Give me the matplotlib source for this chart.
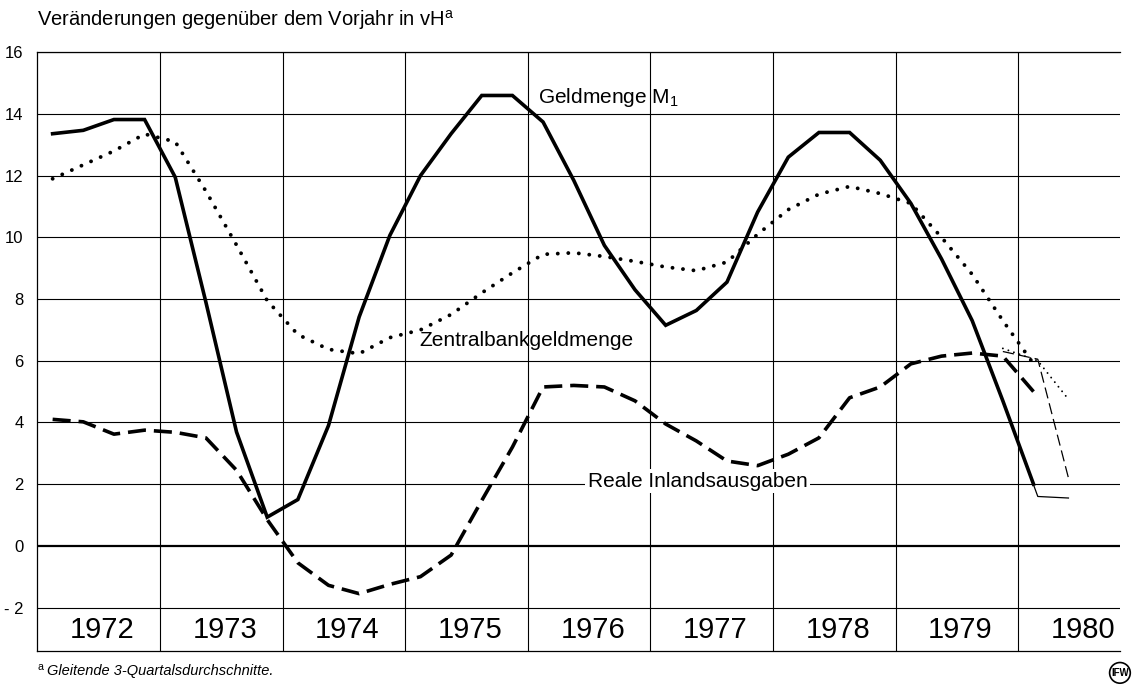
import matplotlib
matplotlib.use("Agg")
import matplotlib.pyplot as plt
import numpy as np

plt.rcParams['font.family'] = ['Liberation Sans', 'DejaVu Sans']
plt.rcParams['mathtext.fontset'] = 'custom'
plt.rcParams['mathtext.rm'] = 'Liberation Sans'
plt.rcParams['mathtext.it'] = 'Liberation Sans:italic'

# quarterly values, 1972 Q1 .. 1980 Q1 (vH gegenueber Vorjahr)
quarters = 1972.125 + 0.25 * np.arange(33)
geldmenge_m1 = [13.36, 13.47, 13.82, 13.82,
                11.95, 7.9, 3.69, 0.93,
                1.50, 3.9, 7.42, 10.06,
                12.0, 13.36, 14.6, 14.6,
                13.74, 11.85, 9.74, 8.3,
                7.15, 7.63, 8.55, 10.82,
                12.6, 13.4, 13.4, 12.5,
                11.1, 9.3, 7.3, 4.7,
                2.0]
zentralbank = [11.9, 12.35, 12.8, 13.35,
               13.1, 11.5, 9.75, 7.95,
               6.85, 6.37, 6.23, 6.75,
               7.0, 7.5, 8.2, 8.85,
               9.45, 9.5, 9.38, 9.22,
               9.04, 8.92, 9.2, 10.1,
               10.9, 11.4, 11.65, 11.42,
               11.1, 10.0, 8.8, 7.3,
               5.9]
inlandsausgaben = [4.1, 4.02, 3.62, 3.75,
                   3.68, 3.5, 2.45, 0.85,
                   -0.55, -1.28, -1.55, -1.25,
                   -1.0, -0.3, 1.47, 3.2,
                   5.15, 5.2, 5.15, 4.7,
                   3.95, 3.4, 2.75, 2.6,
                   2.97, 3.5, 4.8, 5.15,
                   5.9, 6.15, 6.25, 6.15,
                   5.0]

# thin continuation lines at the end
fc_x = [1979.875, 1980.16, 1980.41]
fc_m1 = [4.7, 1.6, 1.55]
fc_zbg = [6.4, 6.0, 4.75]
fc_ausg = [6.3, 6.05, 2.2]

years = [1972, 1973, 1974, 1975, 1976, 1977, 1978, 1979, 1980]
yticks = [16, 14, 12, 10, 8, 6, 4, 2, 0, -2]
ytick_labels = ['16', '14', '12', '10', '8', '6', '4', '2', '0', '- 2']

fig = plt.figure(figsize=(11.37, 6.88), dpi=100)
ax = fig.add_axes([0.0328, 0.0542, 0.9522, 0.8698])
ax.set_xlim(1972, 1980.83)
ax.set_ylim(-3.4, 16)

for y in yticks:
    ax.axhline(y, color='black', lw=1.6 if y == 0 else 0.8, zorder=1)
for yr in years[1:]:
    ax.axvline(yr, color='black', lw=0.8, zorder=1)

for s in ['top', 'left', 'bottom']:
    ax.spines[s].set_linewidth(0.9)
ax.spines['right'].set_visible(False)

ax.set_xticks([])
ax.set_yticks(yticks)
ax.set_yticklabels(ytick_labels, fontsize=12)
ax.tick_params(axis='y', length=0, pad=10)

# main series
ax.plot(quarters, geldmenge_m1, color='black', lw=2.6, solid_joinstyle='miter', zorder=3)
ax.plot(quarters, zentralbank, color='black', lw=2.8, linestyle=(0, (0.01, 2.7)),
        dash_capstyle='round', zorder=3)
ax.plot(quarters, inlandsausgaben, color='black', lw=2.6, linestyle=(0, (5, 2.2)), zorder=3)

# thin lines
ax.plot(fc_x, fc_m1, color='black', lw=0.9, zorder=3)
ax.plot(fc_x, fc_zbg, color='black', lw=1.4, linestyle=(0, (0.01, 3.0)),
        dash_capstyle='round', zorder=3)
ax.plot(fc_x, fc_ausg, color='black', lw=0.9, linestyle=(0, (9, 4)), zorder=3)

# series labels
ax.text(1976.08, 14.55, r'Geldmenge M$\mathregular{_1}$', fontsize=15, va='center', ha='left', zorder=4)
ax.text(1975.12, 6.66, 'Zentralbankgeldmenge', fontsize=15, va='center', ha='left', zorder=4)
ax.text(1976.49, 2.1, 'Reale Inlandsausgaben', fontsize=15, va='center', ha='left', zorder=4,
        bbox=dict(facecolor='white', edgecolor='none', pad=2))

# year labels in the band below -2
for yr in years:
    ax.text(yr + 0.53, -2.72, str(yr), fontsize=21, ha='center', va='center')

fig.text(0.0325, 0.971, r'Veränderungen gegenüber dem Vorjahr in vH$^{\mathregular{a}}$',
         fontsize=14.5, ha='left', va='center')
fig.text(0.0325, 0.027, r'$^{\mathregular{a}}$', fontsize=11, ha='left', va='center')
fig.text(0.0415, 0.024, 'Gleitende 3-Quartalsdurchschnitte.', fontsize=10.5,
         style='italic', ha='left', va='center')
fig.text(0.985, 0.022, 'IFW', fontsize=7, weight='bold', ha='center', va='center',
         bbox=dict(boxstyle='circle', facecolor='white', edgecolor='black', lw=1.2, pad=0.15))

fig.savefig('out.png', dpi=100)
